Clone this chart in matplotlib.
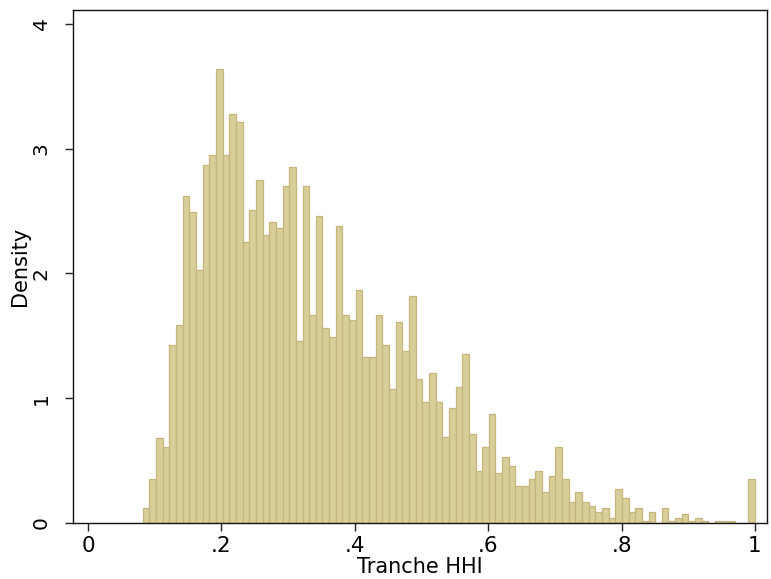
import numpy as np
import matplotlib
matplotlib.use("Agg")
import matplotlib.pyplot as plt

# Histogram of Tranche HHI (density), 92 bins from min to 1
bin_start = 0.0822
bin_end = 1.0
density = [
    0.12, 0.35, 0.68, 0.61, 1.43, 1.59, 2.62, 2.49, 2.03, 2.87,
    2.95, 3.64, 2.95, 3.28, 3.21, 2.25, 2.51, 2.75, 2.31, 2.41,
    2.36, 2.70, 2.85, 1.46, 2.70, 1.67, 2.46, 1.56, 1.49, 2.38,
    1.67, 1.63, 1.87, 1.33, 1.33, 1.67, 1.43, 1.07, 1.61, 1.38,
    1.82, 1.15, 0.97, 1.20, 0.97, 0.69, 0.92, 1.09, 1.35, 0.71,
    0.42, 0.61, 0.87, 0.40, 0.53, 0.46, 0.30, 0.30, 0.35, 0.42,
    0.25, 0.38, 0.61, 0.35, 0.17, 0.25, 0.17, 0.14, 0.09, 0.12,
    0.04, 0.27, 0.20, 0.09, 0.12, 0.02, 0.09, 0.00, 0.12, 0.02,
    0.04, 0.07, 0.02, 0.04, 0.02, 0.00, 0.02, 0.02, 0.02, 0.00,
    0.00, 0.35,
]
x_ticks = [0, 0.2, 0.4, 0.6, 0.8, 1.0]
x_ticklabels = ["0", ".2", ".4", ".6", ".8", "1"]
y_ticks = [0, 1, 2, 3, 4]
y_ticklabels = ["0", "1", "2", "3", "4"]

edges = np.linspace(bin_start, bin_end, len(density) + 1)
widths = np.diff(edges)

fig = plt.figure(figsize=(7.71, 5.79), dpi=100)
ax = fig.add_axes([73 / 771, 1 - 523 / 579, (767 - 73) / 771, (523 - 10) / 579])

ax.bar(edges[:-1], density, width=widths, align="edge",
       facecolor="#D8CE98", edgecolor="#C4B67C", linewidth=0.9)

ax.set_xlim(-0.0225, 1.018)
ax.set_ylim(0, 4.11)
ax.set_xticks(x_ticks)
ax.set_xticklabels(x_ticklabels, fontsize=15.5)
ax.set_yticks(y_ticks)
ax.set_yticklabels(y_ticklabels, fontsize=14.5, rotation=90, va="center")
ax.tick_params(axis="x", direction="out", length=6, width=1, color="#222222", pad=3)
ax.tick_params(axis="y", direction="out", length=6, width=1, color="#222222", pad=10)
for s in ax.spines.values():
    s.set_linewidth(1.0)
    s.set_color("#111111")

ax.set_xlabel("Tranche HHI", fontsize=15, labelpad=1)
ax.set_ylabel("Density", fontsize=15, labelpad=1)

fig.savefig("out.png", dpi=100)
